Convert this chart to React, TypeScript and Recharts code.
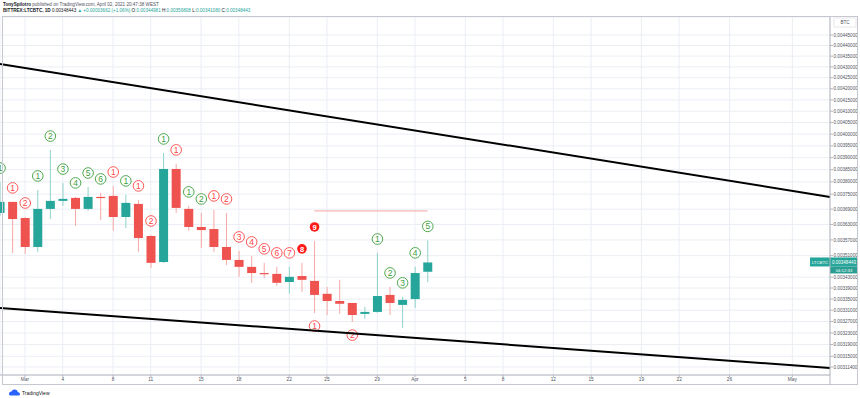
import React from 'react';
import { ComposedChart, Bar, XAxis, YAxis, CartesianGrid, ReferenceLine } from 'recharts';

// day index: 0 = Mar 1, 2021
const days = [-2, -1, 0, 1, 2, 3, 4, 5, 6, 7, 8, 9, 10, 11, 12, 13, 14, 15, 16, 17, 18, 19, 20, 21, 22, 23, 24, 25, 26, 27, 28, 29, 30, 31, 32];
const opens = [0.003675, 0.003719, 0.003655, 0.003543, 0.003691, 0.003723, 0.003735, 0.003691, 0.003739, 0.003743, 0.003659, 0.003711, 0.003585, 0.003486, 0.003853, 0.003691, 0.00362, 0.003612, 0.003543, 0.003494, 0.003468, 0.003445, 0.003442, 0.003412, 0.003434, 0.003416, 0.003369, 0.003343, 0.003336, 0.003297, 0.003304, 0.003365, 0.003329, 0.00335, 0.00344981];
const highs = [0.003799, 0.003719, 0.003659, 0.003767, 0.003932, 0.003795, 0.003739, 0.003779, 0.003755, 0.003783, 0.003747, 0.003727, 0.003589, 0.00392, 0.003874, 0.003703, 0.003675, 0.003687, 0.003675, 0.003528, 0.003509, 0.003483, 0.003468, 0.003468, 0.003483, 0.003566, 0.003394, 0.00342, 0.003336, 0.003322, 0.00352, 0.003394, 0.003358, 0.003468, 0.00356808];
const lows = [0.003663, 0.00352, 0.003516, 0.003524, 0.003651, 0.003703, 0.003624, 0.003683, 0.003647, 0.003605, 0.003616, 0.003524, 0.003464, 0.003483, 0.003675, 0.003605, 0.003539, 0.003524, 0.003475, 0.003431, 0.003409, 0.003427, 0.003398, 0.003369, 0.003376, 0.0033, 0.003293, 0.003297, 0.003268, 0.003279, 0.0033, 0.003293, 0.003247, 0.003318, 0.0034108];
const closes = [0.003719, 0.003651, 0.003543, 0.003691, 0.003723, 0.003731, 0.003691, 0.003739, 0.003735, 0.003659, 0.003715, 0.003577, 0.003483, 0.003853, 0.003695, 0.00362, 0.003608, 0.003543, 0.003494, 0.003468, 0.003445, 0.003442, 0.003409, 0.003431, 0.00342, 0.003365, 0.003343, 0.003333, 0.003293, 0.003304, 0.003361, 0.003336, 0.003347, 0.003445, 0.00348443];

// TD sequential counts: text + kind (g = green outline, r = red outline, R = red filled)
const countAbove = ['1', '1', '2', '1', '2', '3', '4', '5', '6', '1', '1', '1', '2', '1', '1', '1', '2', '1', '2', '3', '4', '5', '6', '7', '8', '9', '', '', '', '', '1', '2', '3', '4', '5'];
const countAboveKind = ['g', 'r', 'r', 'g', 'g', 'g', 'g', 'g', 'g', 'r', 'g', 'r', 'r', 'g', 'r', 'g', 'g', 'r', 'r', 'r', 'r', 'r', 'r', 'r', 'R', 'R', '', '', '', '', 'g', 'g', 'g', 'g', 'g'];
const countBelow = ['', '', '', '', '', '', '', '', '', '', '', '', '', '', '', '', '', '', '', '', '', '', '', '', '', '1', '', '', '2', '', '', '', '', '', ''];

const xTicks = [0, 3, 7, 10, 14, 17, 21, 24, 28, 31, 35, 38, 42, 45, 49, 52, 56, 61];
const xTickLabels = ['Mar', '4', '8', '11', '15', '18', '22', '25', '29', 'Apr', '5', '8', '12', '15', '19', '22', '26', 'May'];
const yTicks = [0.00445, 0.0044, 0.00435, 0.0043, 0.00425, 0.0042, 0.00415, 0.0041, 0.00405, 0.004, 0.00395, 0.0039, 0.00385, 0.0038, 0.00375, 0.00369, 0.00363, 0.00357, 0.00351, 0.00343, 0.00339, 0.00335, 0.00331, 0.00327, 0.00323, 0.00319, 0.00315, 0.003114];

const upperChannel = [{ x: -1.987, y: 0.0043134 }, { x: 63.99, y: 0.003739 }];
const lowerChannel = [{ x: -1.987, y: 0.003318 }, { x: 63.99, y: 0.0031106 }];
const tdstLine = [{ x: 23, y: 0.003683 }, { x: 32, y: 0.003683 }];
const lastPrice = 0.00348443;

const TEAL = '#26a69a';
const RED = '#ef5350';
const LGREEN = '#3c9e3c';
const LRED = '#ff4545';

const rows = days.map((d, i) => ({
  day: d,
  open: opens[i],
  high: highs[i],
  low: lows[i],
  close: closes[i],
  range: [lows[i], highs[i]],
  aTxt: countAbove[i],
  aKind: countAboveKind[i],
  bTxt: countBelow[i],
}));

const CountMark = ({ cx, cy, txt, kind }: any) => {
  if (!txt) return null;
  const filled = kind === 'R';
  const col = kind === 'g' ? LGREEN : LRED;
  return (
    <g>
      <circle cx={cx} cy={cy} r={filled ? 4.8 : 5.3} fill={filled ? '#ff1a1a' : '#ffffff'} stroke={col} strokeWidth={filled ? 0 : 0.9} />
      <text x={cx} y={cy + 3} textAnchor="middle" fontSize={filled ? 7.5 : 8.5} fontWeight={filled ? 700 : 400} fontFamily="Liberation Sans, Arial, sans-serif" fill={filled ? '#ffffff' : col}>{txt}</text>
    </g>
  );
};

const Candle = (props: any) => {
  const { x, y, width, height, payload } = props;
  if (x == null || y == null || !payload) return null;
  const top = Math.min(y, y + height);
  const h = Math.abs(height);
  const lnH = Math.log(payload.high);
  const lnL = Math.log(payload.low);
  const span = lnH - lnL || 1;
  const py = (p: number) => top + ((lnH - Math.log(p)) / span) * h;
  const cx = x + width / 2;
  const up = payload.close >= payload.open;
  const color = up ? TEAL : RED;
  const wick = up ? '#8fd3cb' : '#f7a9a7';
  const yO = py(payload.open);
  const yC = py(payload.close);
  const bTop = Math.min(yO, yC);
  const bH = Math.max(1.2, Math.abs(yO - yC));
  return (
    <g>
      <line x1={cx} x2={cx} y1={top} y2={top + h} stroke={wick} strokeWidth={1} />
      <rect x={cx - width / 2} y={bTop} width={width} height={bH} fill={color} />
      <CountMark cx={cx} cy={top - 14} txt={payload.aTxt} kind={payload.aKind} />
      <CountMark cx={cx} cy={top + h + 13} txt={payload.bTxt} kind="r" />
    </g>
  );
};

const PriceTag = (props: any) => {
  const vb = props.viewBox || {};
  const right = (vb.x || 0) + (vb.width || 0);
  const yy = vb.y || 0;
  return (
    <g>
      <rect x={right - 20} y={yy - 5} width={20} height={9} fill={TEAL} />
      <text x={right - 10} y={yy + 1.5} textAnchor="middle" fontSize={4.3} fill="#fff" fontFamily="Liberation Sans, Arial, sans-serif">LTCBTC</text>
      <rect x={right} y={yy - 5} width={28} height={9} fill={TEAL} />
      <text x={right + 14} y={yy + 1.5} textAnchor="middle" fontSize={4.5} fill="#fff" fontFamily="Liberation Sans, Arial, sans-serif">{lastPrice.toFixed(8)}</text>
      <rect x={right} y={yy + 4} width={28} height={7} fill="#2a9d92" />
      <text x={right + 14} y={yy + 9.2} textAnchor="middle" fontSize={4.3} fill="#fff" fontFamily="Liberation Sans, Arial, sans-serif">04:12:33</text>
    </g>
  );
};

const F = 'Liberation Sans, Arial, sans-serif';

export default function App() {
  return (
    <div style={{ position: 'absolute', left: 0, top: 0, width: 860, height: 398, background: '#ffffff', overflow: 'hidden' }}>
      <ComposedChart width={860} height={398} data={rows} margin={{ top: 17, right: 0, left: 0, bottom: 13 }}>
        <CartesianGrid stroke="#eaeef4" strokeWidth={1} />
        <XAxis
          dataKey="day"
          type="number"
          domain={[-1.987, 63.99]}
          allowDataOverflow
          ticks={xTicks}
          interval={0}
          tickFormatter={(v: number) => xTickLabels[xTicks.indexOf(v)] ?? ''}
          height={10}
          tickSize={2}
          tickMargin={1}
          tick={{ fontSize: 4.8, fill: '#50535e', fontFamily: F }}
          axisLine={{ stroke: '#b2b5be' }}
          tickLine={{ stroke: '#b2b5be' }}
        />
        <YAxis
          orientation="right"
          type="number"
          scale="log"
          domain={[0.0030873, 0.004537]}
          allowDataOverflow
          ticks={yTicks}
          interval={0}
          width={30}
          tickSize={3}
          tickMargin={0.5}
          tickFormatter={(v: number) => v.toFixed(8)}
          tick={{ fontSize: 4.6, fill: '#50535e', fontFamily: F }}
          axisLine={{ stroke: '#b2b5be' }}
          tickLine={{ stroke: '#b2b5be' }}
        />
        <ReferenceLine segment={upperChannel} stroke="#000000" strokeWidth={2} ifOverflow="visible" />
        <ReferenceLine segment={lowerChannel} stroke="#000000" strokeWidth={2} ifOverflow="visible" />
        <ReferenceLine segment={tdstLine} stroke="#f4a3a3" strokeWidth={1} ifOverflow="visible" />
        <Bar dataKey="range" barSize={9} isAnimationActive={false} shape={(p: any) => <Candle {...p} />} />
        <ReferenceLine y={lastPrice} stroke="none" ifOverflow="visible" label={(p: any) => <PriceTag {...p} />} />
      </ComposedChart>
      <svg width={860} height={398} style={{ position: 'absolute', left: 0, top: 0, pointerEvents: 'none' }}>
        <rect x={2.5} y={16.5} width={855} height={368} fill="none" stroke="#c5c8cf" strokeWidth={1} />
        <line x1={830} x2={830} y1={375} y2={385} stroke="#b2b5be" />
        <text x={3} y={5.5} fontSize={4.6} fontFamily={F} fill="#131722">
          <tspan fontWeight={700}>TonySpilotro</tspan>
          <tspan fill="#50535e"> published on TradingView.com, April 02, 2021 20:47:38 WEST</tspan>
        </text>
        <text x={3} y={12} fontSize={4.6} fontFamily={F} fill="#131722">
          <tspan fontWeight={700}>BITTREX:LTCBTC, 1D</tspan>
          <tspan> 0.00348443 </tspan>
          <tspan fill={TEAL}>▲ +0.00003662 (+1.06%)</tspan>
          <tspan> O:</tspan><tspan fill={TEAL}>0.00344981</tspan>
          <tspan> H:</tspan><tspan fill={TEAL}>0.00356808</tspan>
          <tspan> L:</tspan><tspan fill={TEAL}>0.00341080</tspan>
          <tspan> C:</tspan><tspan fill={TEAL}>0.00348443</tspan>
        </text>
        <rect x={834} y={18} width={22} height={9} fill="#ffffff" stroke="#d6d8dd" strokeWidth={0.6} />
        <text x={845} y={24.2} textAnchor="middle" fontSize={4.5} fontFamily={F} fill="#50535e">BTC</text>
        <g transform="translate(8,388)">
          <path d="M1 6 Q1 3.5 3.5 3.5 Q4.5 1 7 1.5 Q9.5 1.8 9.8 4 Q12 4.3 12 6 Q12 7.5 10.5 7.5 L2.5 7.5 Q1 7.5 1 6 Z" fill="#2962ff" />
          <text x={14} y={6.5} fontSize={5} fontFamily={F} fill="#131722">TradingView</text>
        </g>
      </svg>
    </div>
  );
}
